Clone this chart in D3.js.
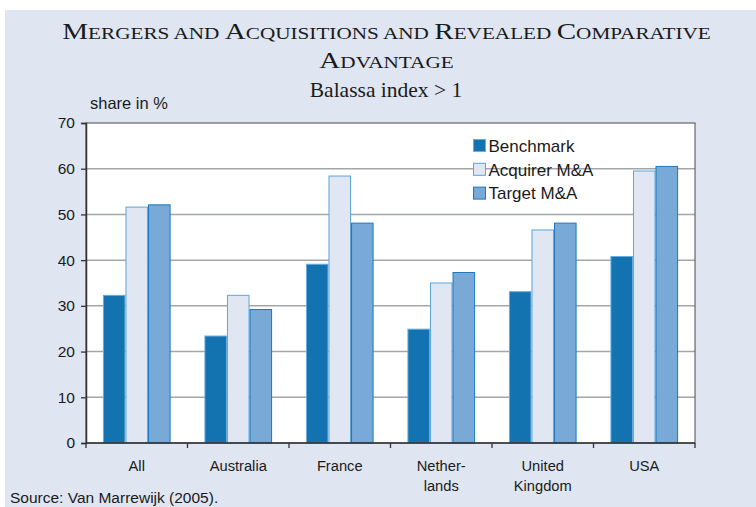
<!DOCTYPE html>
<html>
<head>
<meta charset="utf-8">
<script src="https://cdn.jsdelivr.net/npm/d3@7"></script>
<style>
  body { margin: 0; background: #fff; }
  svg { display: block; }
</style>
</head>
<body>
<svg></svg>
<script>
const size = {w: 756, h: 507};
const plot = {l: 86, r: 695, t: 123, b: 443};

// data
const categories = ['All', 'Australia', 'France', 'Nether-|lands', 'United|Kingdom', 'USA'];
const seriesNames = ['Benchmark', 'Acquirer M&A', 'Target M&A'];
const benchmark = [32.3, 23.4, 39.1, 24.9, 33.1, 40.8];
const acquirer = [51.6, 32.3, 58.4, 35.0, 46.6, 59.5];
const target = [52.1, 29.2, 48.1, 37.3, 48.1, 60.5];
const yTicks = [0, 10, 20, 30, 40, 50, 60, 70];

const fills = ['#1372b0', '#e0e7f3', '#79a9d6'];
const strokes = ['#6aaddf', '#5aa6dd', '#1b79c3'];

const sans = '"Liberation Sans", Arial, sans-serif';
const serif = '"Liberation Serif", "Times New Roman", serif';

const svg = d3.select('svg')
    .attr('width', size.w)
    .attr('height', size.h);

// light blue panel, with a thin white margin at top and left
svg.append('rect')
    .attr('x', 5).attr('y', 10)
    .attr('width', size.w - 5).attr('height', size.h - 10)
    .attr('fill', '#dfe6f2');

// title in small caps (the original face is wider, so stretch it to fit)
const titleLines = [
    [['M', 'ERGERS AND '], ['A', 'CQUISITIONS AND '], ['R', 'EVEALED '], ['C', 'OMPARATIVE']],
    [['A', 'DVANTAGE']]
];
let titleScale = 1;
titleLines.forEach(function(line, i) {
    let g = svg.append('g')
        .attr('transform', 'translate(386.5,' + (38.5 + i * 29.5) + ')');
    let t = g.append('text')
        .attr('text-anchor', 'middle')
        .style('font-family', serif)
        .style('fill', '#1a1a1a');
    line.forEach(function(p) {
        t.append('tspan').style('font-size', '24px').text(p[0]);
        t.append('tspan').style('font-size', '17.5px').text(p[1]);
    });
    if (i === 0) titleScale = 649 / t.node().getBBox().width;
    t.attr('transform', 'scale(' + titleScale + ',1)');
});

svg.append('text')
    .attr('x', 386).attr('y', 96.5)
    .attr('text-anchor', 'middle')
    .style('font-family', serif)
    .style('font-size', '21.5px')
    .style('fill', '#1a1a1a')
    .text('Balassa index > 1');

svg.append('text')
    .attr('x', 90).attr('y', 109)
    .style('font-family', sans)
    .style('font-size', '16.5px')
    .style('fill', '#1a1a1a')
    .text('share in %');

// scales
const x0 = d3.scaleBand()
    .domain(categories)
    .range([plot.l, plot.r]);
const bw = x0.bandwidth();
const x1 = d3.scaleBand()
    .domain(seriesNames)
    .range([bw / 6, bw * 5 / 6]);
const y = d3.scaleLinear()
    .domain([0, 70])
    .range([plot.b, plot.t]);

// white plot area
svg.append('rect')
    .attr('x', plot.l).attr('y', plot.t)
    .attr('width', plot.r - plot.l).attr('height', plot.b - plot.t)
    .attr('fill', '#fff');

// gridlines
svg.append('g')
    .selectAll('line')
    .data(yTicks.slice(1, -1))
    .join('line')
    .attr('x1', plot.l).attr('x2', plot.r)
    .attr('y1', d => y(d)).attr('y2', d => y(d))
    .attr('stroke', '#a3a6a9')
    .attr('stroke-width', 1.5);

// bars
const rows = categories.map((c, i) => ({
    cat: c,
    vals: [benchmark[i], acquirer[i], target[i]]
}));
const groups = svg.append('g')
    .selectAll('g')
    .data(rows)
    .join('g')
    .attr('transform', d => 'translate(' + x0(d.cat) + ',0)');
groups.selectAll('rect')
    .data(d => d.vals.map((v, k) => ({name: seriesNames[k], k: k, v: v})))
    .join('rect')
    .attr('x', d => x1(d.name) + 0.5)
    .attr('y', d => y(d.v))
    .attr('width', x1.bandwidth() - 1)
    .attr('height', d => y(0) - y(d.v))
    .attr('fill', d => fills[d.k])
    .attr('stroke', d => strokes[d.k])
    .attr('stroke-width', 1);

// frame
svg.append('rect')
    .attr('x', plot.l).attr('y', plot.t)
    .attr('width', plot.r - plot.l).attr('height', plot.b - plot.t)
    .attr('fill', 'none')
    .attr('stroke', '#4a4a4a')
    .attr('stroke-width', 1);

// y axis
const yAxis = svg.append('g')
    .attr('transform', 'translate(' + plot.l + ',0)')
    .call(d3.axisLeft(y).tickValues(yTicks).tickSize(5).tickPadding(6));
yAxis.select('.domain').attr('stroke', '#333').attr('stroke-width', 1.5);
yAxis.selectAll('.tick line').attr('stroke', '#333').attr('stroke-width', 1.3);
yAxis.selectAll('text')
    .style('font-family', sans)
    .style('font-size', '15.5px')
    .style('fill', '#1a1a1a');

// x axis: ticks at the band boundaries
const xg = svg.append('g');
xg.append('line')
    .attr('x1', plot.l).attr('x2', plot.r)
    .attr('y1', plot.b).attr('y2', plot.b)
    .attr('stroke', '#333').attr('stroke-width', 1.5);
xg.selectAll('line.tk')
    .data(categories.concat(['end']))
    .join('line')
    .classed('tk', true)
    .attr('x1', (d, i) => i < categories.length ? x0(d) : plot.r)
    .attr('x2', (d, i) => i < categories.length ? x0(d) : plot.r)
    .attr('y1', plot.b).attr('y2', plot.b + 5)
    .attr('stroke', '#333').attr('stroke-width', 1.3);
xg.selectAll('text')
    .data(categories)
    .join('text')
    .attr('x', d => x0(d) + bw / 2)
    .attr('y', 471)
    .attr('text-anchor', 'middle')
    .style('font-family', sans)
    .style('font-size', '14.7px')
    .style('fill', '#1a1a1a')
    .each(function(d) {
        d.split('|').forEach((s, i) => {
            d3.select(this).append('tspan')
                .attr('x', x0(d) + bw / 2)
                .attr('dy', i === 0 ? 0 : 20)
                .text(s);
        });
    });

// legend
const legend = svg.append('g')
    .attr('transform', 'translate(473,139)');
const li = legend.selectAll('g')
    .data(seriesNames)
    .join('g')
    .attr('transform', (d, i) => 'translate(0,' + i * 23.8 + ')');
li.append('rect')
    .attr('x', 0.5).attr('y', 0.5)
    .attr('width', 12).attr('height', 12)
    .attr('fill', (d, i) => fills[i])
    .attr('stroke', (d, i) => strokes[i]);
li.append('text')
    .attr('x', 15.5).attr('y', 12.7)
    .style('font-family', sans)
    .style('font-size', '17px')
    .style('fill', '#1a1a1a')
    .text(d => d);

// source note
svg.append('text')
    .attr('x', 10).attr('y', 502.5)
    .style('font-family', sans)
    .style('font-size', '15.5px')
    .style('fill', '#1a1a1a')
    .text('Source: Van Marrewijk (2005).');
</script>
</body>
</html>
